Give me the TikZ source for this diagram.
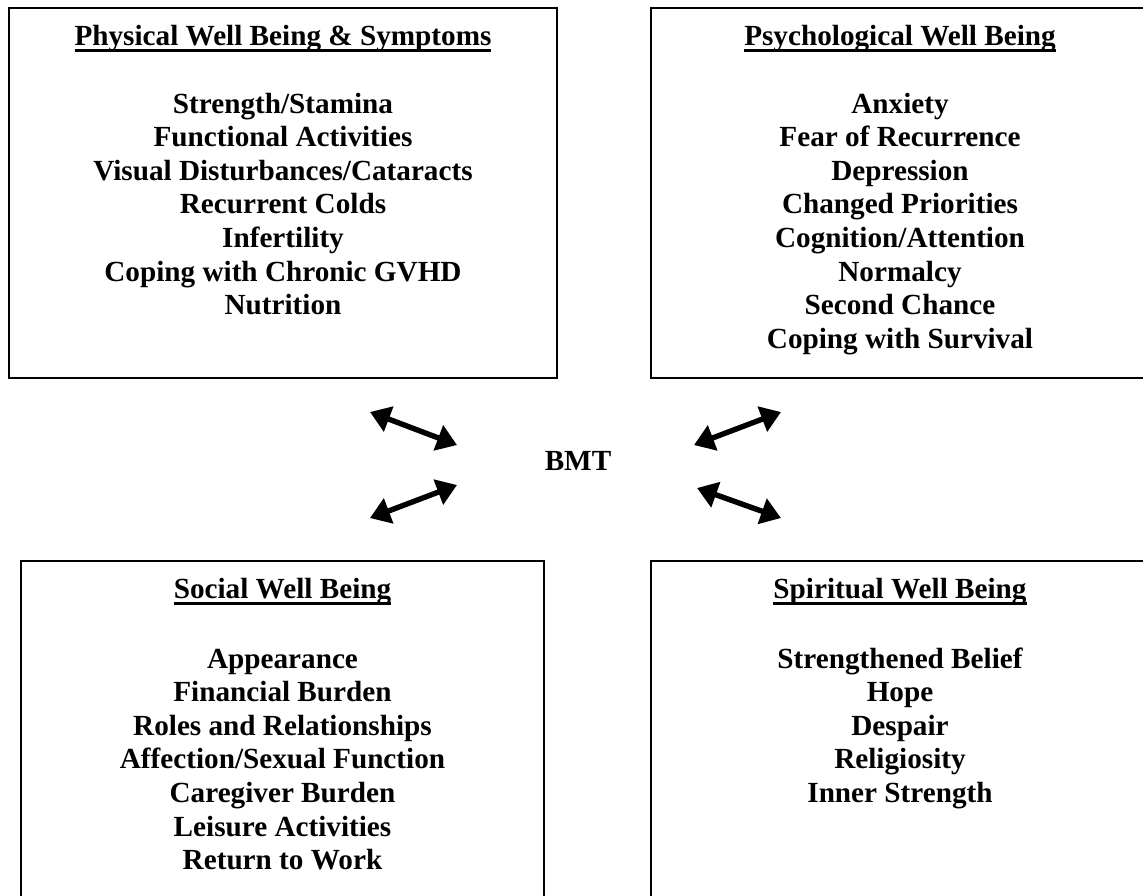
\documentclass[tikz,border=0pt]{standalone}
\usepackage{fontspec}
\setmainfont{Liberation Serif}
\usepackage{tikz}
\usetikzlibrary{positioning,fit,arrows.meta}

\newcommand{\panelhead}[1]{\setbox0\hbox{#1}\rlap{\rule[-3pt]{\wd0}{1.3pt}}\box0}

\tikzset{
  panel/.style={draw,line width=1.2pt,inner sep=0pt},
  paneltext/.style={align=center,inner sep=0pt,font=\fontsize{14.6pt}{16.8pt}\selectfont\bfseries},
  twoway/.style={line width=2.7pt,{Triangle[length=10pt,width=13pt]}-{Triangle[length=10pt,width=13pt]}}
}

\begin{document}
\begin{tikzpicture}[x=0.5pt,y=-0.5pt]
\useasboundingbox (0,0) rectangle (1143,895);

% the four panels
\node [panel,fit={(9,8) (557,378)}] (phys) {};
\node [panel,fit={(651,8) (1149,378)}] (psych) {};
\node [panel,fit={(21,561) (544,905)}] (social) {};
\node [panel,fit={(651,561) (1149,905)}] (spirit) {};

\node [paneltext,below=7.6pt of phys.north] (physlist)
{\strut\panelhead{Physical Well Being \& Symptoms}\\[16.8pt]
Strength/Stamina\\
Functional Activities\\
Visual Disturbances/Cataracts\\
Recurrent Colds\\
Infertility\\
Coping with Chronic GVHD\\
Nutrition};

\node [paneltext,below=7.6pt of psych.north] (psychlist)
{\strut\panelhead{Psychological Well Being}\\[16.8pt]
Anxiety\\
Fear of Recurrence\\
Depression\\
Changed Priorities\\
Cognition/Attention\\
Normalcy\\
Second Chance\\
Coping with Survival};

\node [paneltext,below=7.4pt of social.north] (sociallist)
{\strut\panelhead{Social Well Being}\\[18pt]
Appearance\\
Financial Burden\\
Roles and Relationships\\
Affection/Sexual Function\\
Caregiver Burden\\
Leisure Activities\\
Return to Work};

\node [paneltext,below=7.4pt of spirit.north] (spiritlist)
{\strut\panelhead{Spiritual Well Being}\\[18pt]
Strengthened Belief\\
Hope\\
Despair\\
Religiosity\\
Inner Strength};

% centre and arrows
\node [paneltext,anchor=base] (bmt) at (578,470) {BMT};

\coordinate (physend) at (370,412);
\coordinate (physbmt) at (457,445);
\coordinate (socialend) at (370,518);
\coordinate (socialbmt) at (457,485);
\coordinate (psychbmt) at (694,445);
\coordinate (psychend) at (781,412);
\coordinate (spiritbmt) at (697,488);
\coordinate (spiritend) at (781,518);

\draw [twoway] (physend) -- (physbmt);
\draw [twoway] (socialend) -- (socialbmt);
\draw [twoway] (psychbmt) -- (psychend);
\draw [twoway] (spiritbmt) -- (spiritend);
\end{tikzpicture}
\end{document}
